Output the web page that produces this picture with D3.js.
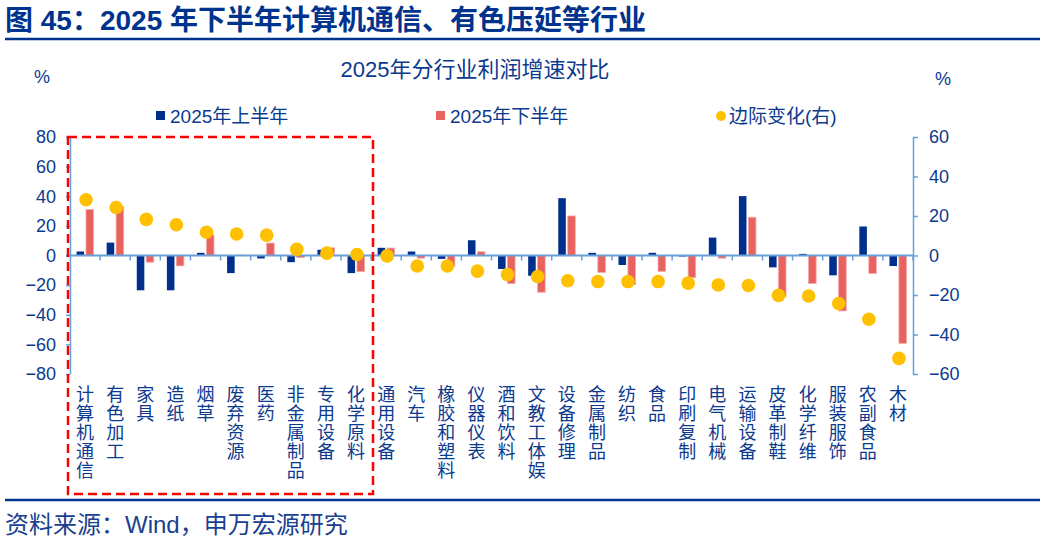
<!DOCTYPE html>
<html>
<head>
<meta charset="utf-8">
<script src="https://cdn.jsdelivr.net/npm/d3@7"></script>
<style>
  body { margin: 0; background: #fff; }
  svg text { font-family: "Liberation Sans", "Noto Sans CJK SC", sans-serif; fill: #0B3A8E; }
  .vlabel { writing-mode: vertical-rl; text-orientation: upright; font-family: "Noto Sans CJK SC"; }
</style>
</head>
<body>
<svg width="1054" height="538"></svg>
<script>
// 行业分类（按边际变化排序）
var categories = ["计算机通信","有色加工","家具","造纸","烟草","废弃资源","医药","非金属制品","专用设备","化学原料",
  "通用设备","汽车","橡胶和塑料","仪器仪表","酒和饮料","文教工体娱","设备修理","金属制品","纺织","食品",
  "印刷复制","电气机械","运输设备","皮革制鞋","化学纤维","服装服饰","农副食品","木材"];

// 2025年上半年利润增速 (%)
var firstHalf = [2.7, 8.7, -23.5, -23.5, 1.8, -11.9, -2, -4.5, 3.9, -11.9,
  5.2, 2.7, -2.3, 10.3, -9.1, -13.7, 38.7, 1.8, -6.4, 1.8,
  -0.7, 12.1, 40.1, -8, 1.1, -13.4, 19.6, -7.1];

// 2025年下半年利润增速 (%)
var secondHalf = [31, 33, -4.5, -7, 13.9, 0.3, 8.4, -1.4, 5.2, -10.9,
  5, -1.8, -7.3, 2.5, -18.9, -24.8, 26.7, -11.4, -19.6, -10.7,
  -14.8, -1.8, 25.8, -27.8, -18.9, -37.4, -12.1, -59.3];

// 边际变化（右轴）
var marginalChange = [28.2, 24.3, 18.3, 15.6, 11.8, 10.9, 10.3, 3.1, 1.2, 0.5,
  -0.2, -5.3, -5.3, -7.9, -9.7, -10.6, -12.8, -13.2, -13.2, -13.2,
  -14, -14.9, -15.2, -20.2, -20.5, -24.3, -32.3, -52.1];

var leftTicks = [-80, -60, -40, -20, 0, 20, 40, 60, 80],
    rightTicks = [-60, -40, -20, 0, 20, 40, 60];

var navy = "#0B3A8E", axisColor = "#6A9FD8",
    blue = "#00308C", red = "#E8625F", gold = "#FFC000";

var svg = d3.select("svg");

// 标题
svg.append("text")
  .attr("x", 5).attr("y", 30)
  .attr("font-size", 28).attr("font-weight", "bold")
  .style("fill", "#00338D")
  .text("图 45：2025 年下半年计算机通信、有色压延等行业");

svg.append("line")
  .attr("x1", 5).attr("x2", 1040).attr("y1", 39).attr("y2", 39)
  .attr("stroke", "#00338D").attr("stroke-width", 2.5);

svg.append("text")
  .attr("x", 475).attr("y", 77)
  .attr("text-anchor", "middle").attr("font-size", 22)
  .text("2025年分行业利润增速对比");

svg.append("text").attr("x", 42).attr("y", 83).attr("text-anchor", "middle").attr("font-size", 18).text("%");
svg.append("text").attr("x", 943).attr("y", 85).attr("text-anchor", "middle").attr("font-size", 18).text("%");

// 比例尺
var x = d3.scaleBand()
  .domain(categories)
  .range([70, 913])
  .padding(0);

var sub = d3.scaleBand()
  .domain(["h1", "h2"])
  .range([-8.5, 8.5])
  .paddingInner(0.2);

var yLeft = d3.scaleLinear().domain([-80, 80]).range([374, 137]);
var yRight = d3.scaleLinear().domain([-60, 60]).range([374, 137]);

// 左轴
var leftAxis = svg.append("g")
  .attr("transform", "translate(70,0)")
  .call(d3.axisLeft(yLeft).tickValues(leftTicks).tickSize(4).tickPadding(10).tickSizeOuter(0));
leftAxis.selectAll("path, line").attr("stroke", axisColor).attr("stroke-width", 1.5);
leftAxis.selectAll("text").attr("font-size", 18).style("fill", navy)
  .style("font-family", "Liberation Sans");

// 右轴
var rightAxis = svg.append("g")
  .attr("transform", "translate(913,0)")
  .call(d3.axisRight(yRight).tickValues(rightTicks).tickSize(5).tickPadding(11).tickSizeOuter(0));
rightAxis.selectAll("path, line").attr("stroke", axisColor).attr("stroke-width", 1.5);
rightAxis.selectAll("text").attr("font-size", 18).style("fill", navy)
  .style("font-family", "Liberation Sans");

// 柱子
var rows = categories.map(function(c, i) {
  return { cat: c, h1: firstHalf[i], h2: secondHalf[i], change: marginalChange[i] };
});

var barGroups = svg.append("g").attr("class", "bars")
  .selectAll("g")
  .data(rows)
  .enter().append("g")
  .attr("transform", function(d) { return "translate(" + (x(d.cat) + x.bandwidth() / 2) + ",0)"; });

barGroups.append("rect")
  .attr("x", sub("h1"))
  .attr("width", sub.bandwidth())
  .attr("y", function(d) { return yLeft(Math.max(0, d.h1)); })
  .attr("height", function(d) { return Math.abs(yLeft(d.h1) - yLeft(0)); })
  .attr("fill", blue);

barGroups.append("rect")
  .attr("x", sub("h2"))
  .attr("width", sub.bandwidth())
  .attr("y", function(d) { return yLeft(Math.max(0, d.h2)); })
  .attr("height", function(d) { return Math.abs(yLeft(d.h2) - yLeft(0)); })
  .attr("fill", red)
  .attr("stroke", "#F3A8A6").attr("stroke-width", 0.8);

// 零线和分类刻度
var zeroY = yLeft(0);
svg.append("line")
  .attr("x1", 66).attr("x2", 913).attr("y1", zeroY).attr("y2", zeroY)
  .attr("stroke", axisColor).attr("stroke-width", 2);

svg.append("g").selectAll("line")
  .data(categories.slice(1).concat(["__end"]))
  .enter().append("line")
  .attr("x1", function(d) { return d === "__end" ? 913 : x(d); })
  .attr("x2", function(d) { return d === "__end" ? 913 : x(d); })
  .attr("y1", zeroY).attr("y2", zeroY + 5)
  .attr("stroke", axisColor).attr("stroke-width", 1.5);

// 边际变化散点
svg.append("g").selectAll("circle")
  .data(rows)
  .enter().append("circle")
  .attr("cx", function(d) { return x(d.cat) + x.bandwidth() / 2 + 1; })
  .attr("cy", function(d) { return yRight(d.change); })
  .attr("r", 6.8)
  .attr("fill", gold);

// 竖排分类标签
svg.append("g").selectAll("text")
  .data(categories)
  .enter().append("text")
  .attr("class", "vlabel")
  .attr("font-size", 18)
  .attr("letter-spacing", 1)
  .attr("x", function(d) { return x(d) + x.bandwidth() / 2; })
  .attr("y", 385)
  .text(function(d) { return d; });

// 虚线框
svg.append("rect")
  .attr("x", 68).attr("y", 137).attr("width", 305).attr("height", 357)
  .attr("fill", "none").attr("stroke", "#FF0000").attr("stroke-width", 2.5)
  .attr("stroke-dasharray", "9,5");

// 图例
var legend = svg.append("g").attr("font-size", 19);
legend.append("rect").attr("x", 156).attr("y", 111).attr("width", 9).attr("height", 9).attr("fill", blue);
legend.append("text").attr("x", 170).attr("y", 123).text("2025年上半年");
legend.append("rect").attr("x", 436).attr("y", 111).attr("width", 9).attr("height", 9).attr("fill", red);
legend.append("text").attr("x", 450).attr("y", 123).text("2025年下半年");
legend.append("circle").attr("cx", 721).attr("cy", 116).attr("r", 5).attr("fill", gold);
legend.append("text").attr("x", 729).attr("y", 123).text("边际变化(右)");

// 底部
svg.append("line")
  .attr("x1", 5).attr("x2", 1040).attr("y1", 500).attr("y2", 500)
  .attr("stroke", "#00338D").attr("stroke-width", 2.5);

svg.append("text")
  .attr("x", 5).attr("y", 533)
  .attr("font-size", 24)
  .style("fill", "#1A3F91")
  .text("资料来源：Wind，申万宏源研究");
</script>
</body>
</html>
